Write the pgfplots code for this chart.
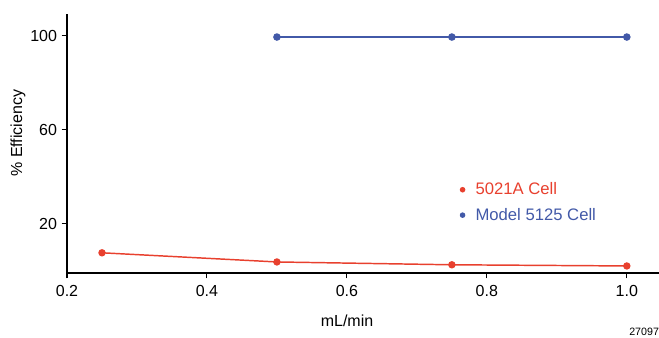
\documentclass[border=0pt]{standalone}
\usepackage{pgfplots}
\pgfplotsset{compat=1.18}
\usepackage{fontspec}
\setmainfont{Liberation Sans}
\definecolor{cred}{HTML}{E8402E}
\definecolor{cblue}{HTML}{4259A8}
\begin{document}
\begin{tikzpicture}
\useasboundingbox (0pt,0pt) rectangle (494.25pt,252.75pt);
\begin{axis}[
  at={(50.25pt,48pt)}, anchor=south west,
  scale only axis,
  width=444pt, height=194.25pt,
  xmin=0.2, xmax=1.046,
  ymin=-0.9, ymax=109.3,
  axis x line=bottom, axis y line=left,
  axis line style={-, line width=0.8pt},
  tick align=outside,
  major tick length=4pt,
  tick style={line width=0.8pt, black},
  xtick={0.2,0.4,0.6,0.8,1.0},
  ytick={20,60,100},
  xticklabel style={yshift=-1.5pt, /pgf/number format/.cd, fixed, fixed zerofill, precision=1},
  /pgf/number format/assume math mode=true,
  ticklabel style={font=\fontsize{12}{14}\selectfont},
  label style={font=\fontsize{12}{14}\selectfont},
  xlabel={mL/min},
  ylabel={\% Efficiency},
  xlabel style={at={(axis description cs:0.473,-0.185)}, anchor=center},
  ylabel style={at={(axis description cs:-0.083,0.54)}, anchor=center},
  legend style={draw=none, fill=none, at={(axis description cs:0.663,0.36)}, anchor=north west,
    font=\fontsize{12.5}{15}\selectfont, row sep=4.5pt, inner sep=0pt},
  legend cell align=left,
  legend image code/.code={\fill[#1, draw=none] (0.05cm,0cm) circle (2.1pt); \path (0.3cm,0cm);},
]
\addplot[color=cred, line width=1.1pt, mark=*, mark size=2.2pt] coordinates {
  (0.25,7.7) (0.5,3.8) (0.75,2.6) (1.0,2.1)
};
\addlegendentry{\textcolor{cred}{5021A Cell}}
\addplot[color=cblue, line width=1.2pt, mark=*, mark size=2.2pt] coordinates {
  (0.5,99.5) (0.75,99.5) (1.0,99.5)
};
\addlegendentry{\textcolor{cblue}{Model 5125 Cell}}
\end{axis}
\node[anchor=west, font=\fontsize{8}{9}\selectfont, inner sep=0pt] at (471.75pt,3.75pt) {27097};
\end{tikzpicture}
\end{document}
